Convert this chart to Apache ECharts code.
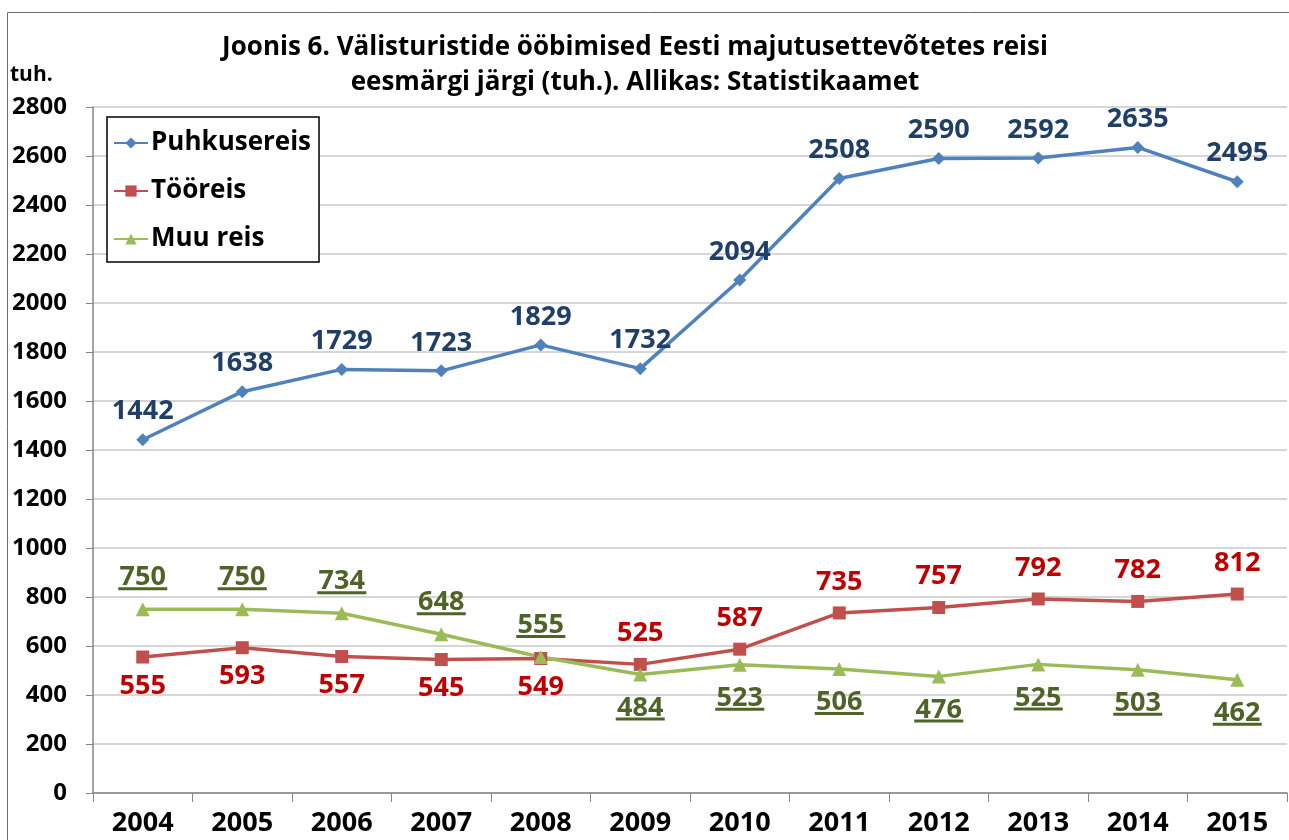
<!DOCTYPE html>
<html>
<head>
<meta charset="utf-8">
<script src="https://cdn.jsdelivr.net/npm/echarts@6/dist/echarts.min.js"></script>
<style>
  html, body { margin: 0; padding: 0; background: #fff; }
  #chart { width: 1289px; height: 840px; }
</style>
</head>
<body>
<div id="chart"></div>
<script>
// andmed
var years = ['2004', '2005', '2006', '2007', '2008', '2009', '2010', '2011', '2012', '2013', '2014', '2015'];
var puhkusereis = [1442, 1638, 1729, 1723, 1829, 1732, 2094, 2508, 2590, 2592, 2635, 2495];
var tooreis = [555, 593, 557, 545, 549, 525, 587, 735, 757, 792, 782, 812];
var muuReis = [750, 750, 734, 648, 555, 484, 523, 506, 476, 525, 503, 462];

var FONT = '"Open Sans", "Liberation Sans", sans-serif';

var chart = echarts.init(document.getElementById('chart'));

// Tööreis: kuni 2008 sildid all, alates 2009 üleval
var redData = tooreis.map(function (v, i) {
    var below = i < 5;
    return {
        value: v,
        label: { position: below ? 'bottom' : 'top', distance: below ? 9 : 11 }
    };
});
// Muu reis: kuni 2008 üleval, hiljem all (allajoonitud)
var greenData = muuReis.map(function (v, i) {
    var above = i < 5;
    return {
        value: v,
        label: { position: above ? 'top' : 'bottom', distance: above ? 12 : 17 }
    };
});

var option = {
    animation: false,
    backgroundColor: '#fff',
    textStyle: { fontFamily: FONT },
    title: {
        text: 'Joonis 6. Välisturistide ööbimised Eesti majutusettevõtetes reisi\neesmärgi järgi (tuh.). Allikas: Statistikaamet',
        left: 630,
        top: 25,
        textAlign: 'center',
        textStyle: { fontFamily: FONT, fontSize: 26, fontWeight: 'bold', color: '#000', lineHeight: 35 }
    },
    graphic: [
        {
            type: 'rect',
            shape: { x: 7.5, y: 12.5, width: 1300, height: 900 },
            style: { fill: 'none', stroke: '#6b6b6b', lineWidth: 1 },
            silent: true
        },
        {
            type: 'text',
            left: 10,
            top: 65,
            style: { text: 'tuh.', font: 'bold 21px ' + FONT, fill: '#000' }
        }
    ],
    legend: {
        left: 107,
        top: 117,
        orient: 'vertical',
        itemGap: 18,
        itemWidth: 34,
        itemHeight: 14,
        padding: [11, 8, 8, 6],
        borderColor: '#000',
        borderWidth: 1.5,
        borderRadius: 0,
        backgroundColor: '#fff',
        textStyle: { fontFamily: FONT, fontSize: 26, fontWeight: 'bold', color: '#000', lineHeight: 30, padding: [0, 0, 0, -2] },
        data: ['Puhkusereis', 'Tööreis', 'Muu reis']
    },
    grid: { left: 93, top: 107, right: 2, bottom: 47, containLabel: false },
    xAxis: {
        type: 'category',
        data: years,
        boundaryGap: true,
        axisLine: { lineStyle: { color: '#868686', width: 1.5 } },
        axisTick: { show: true, length: 9, inside: false, lineStyle: { color: '#868686' } },
        axisLabel: { fontFamily: FONT, fontSize: 27, fontWeight: 'bold', color: '#000', margin: 17 }
    },
    yAxis: {
        type: 'value',
        min: 0,
        max: 2800,
        interval: 200,
        axisLine: { show: true, lineStyle: { color: '#868686', width: 1.5 } },
        axisTick: { show: true, length: 7, lineStyle: { color: '#868686' } },
        splitLine: { lineStyle: { color: '#c8c8c8', width: 1.5 } },
        axisLabel: {
            fontFamily: FONT, fontSize: 24, fontWeight: 'bold', color: '#000', margin: 26,
            formatter: function (v) { return String(v); }
        }
    },
    series: [
        {
            name: 'Puhkusereis',
            type: 'line',
            data: puhkusereis,
            color: '#4f81bd',
            symbol: 'diamond',
            symbolSize: 13,
            lineStyle: { width: 3.5 },
            label: {
                show: true,
                position: 'top',
                distance: 8,
                fontFamily: FONT,
                fontSize: 27,
                fontWeight: 'bold',
                color: '#1f3f66'
            }
        },
        {
            name: 'Tööreis',
            type: 'line',
            data: redData,
            color: '#c0504d',
            symbol: 'rect',
            symbolSize: 13,
            lineStyle: { width: 3.5 },
            label: {
                show: true,
                fontFamily: FONT,
                fontSize: 27,
                fontWeight: 'bold',
                color: '#c00000'
            }
        },
        {
            name: 'Muu reis',
            type: 'line',
            data: greenData,
            color: '#9bbb59',
            symbol: 'triangle',
            symbolSize: 14,
            lineStyle: { width: 3.5 },
            label: {
                show: true,
                align: 'center',
                formatter: function (p) { return '{v|' + p.value + '}\n{u|}'; },
                rich: {
                    v: { fontFamily: FONT, fontSize: 27, fontWeight: 'bold', color: '#4f6228', lineHeight: 19, align: 'center' },
                    u: { width: 49, height: 3, lineHeight: 3, backgroundColor: '#4f6228', align: 'center' }
                }
            }
        }
    ]
};

chart.setOption(option);
</script>
</body>
</html>
